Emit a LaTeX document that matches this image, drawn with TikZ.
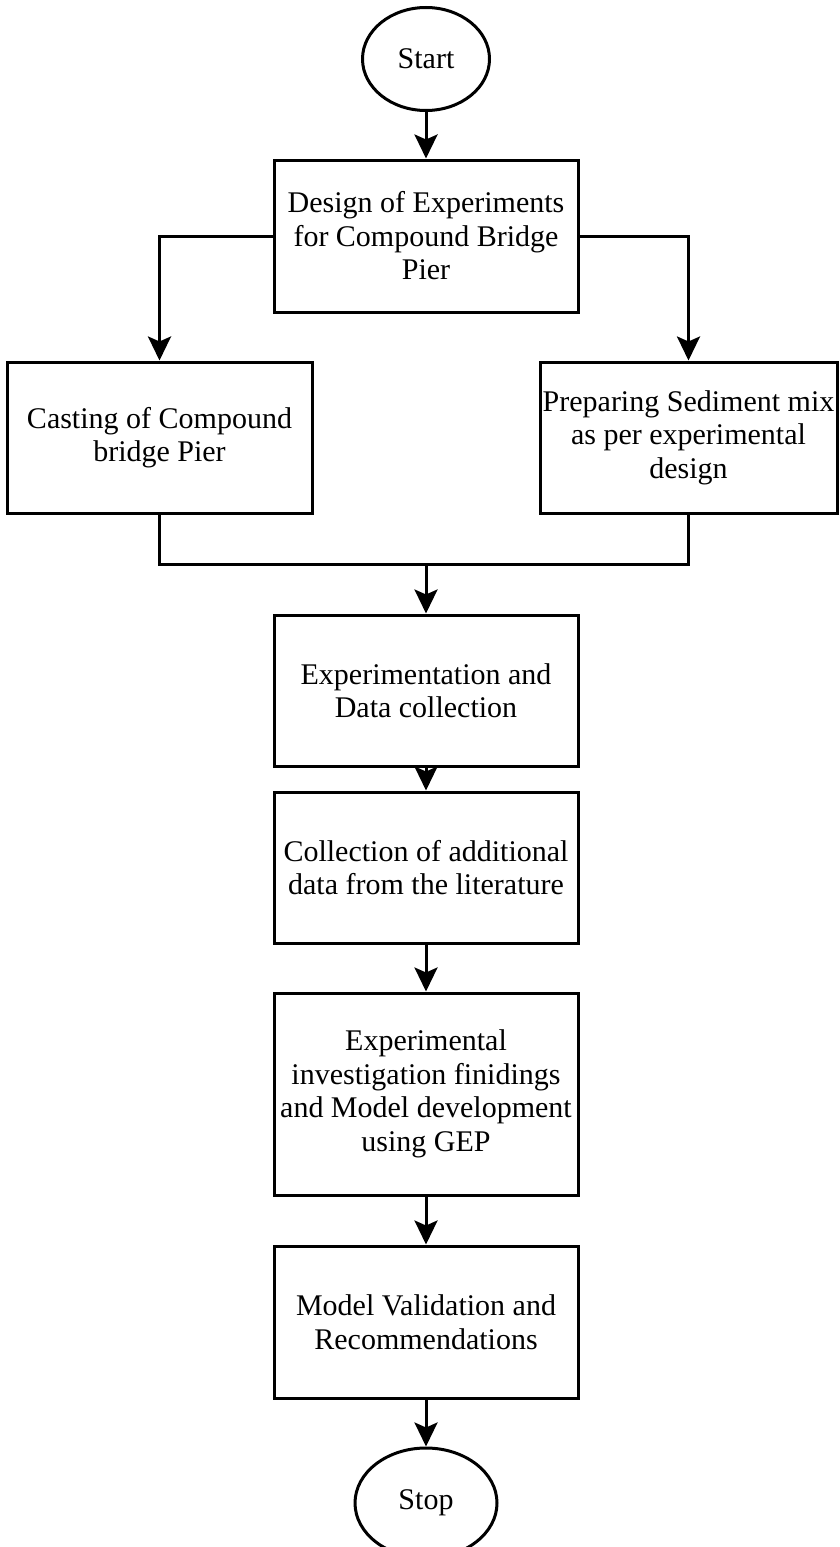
\documentclass[tikz,border=0pt]{standalone}
\usepackage{fontspec}
\setmainfont{Liberation Serif}
\usetikzlibrary{arrows.meta,shapes.geometric}
\begin{document}
\begin{tikzpicture}[x=1pt,y=-1pt,
  every node/.style={font=\fontsize{30}{33.5}\selectfont, align=center, inner sep=0pt},
  procbox/.style={draw, line width=3pt, rectangle, minimum width=304pt},
  term/.style={draw, line width=3pt, ellipse, minimum width=127pt, minimum height=103pt},
  conn/.style={line width=3pt},
  arr/.style={conn, -{Stealth[width=23pt,length=24pt,inset=5pt]}}]
\useasboundingbox (0,0) rectangle (840,1547);
\fill[white] (0,0) rectangle (840,1547);
\node[term] (start) at (426,59) {Start};
\node[procbox, minimum height=152pt] (b1) at (426,236) {Design of Experiments\\for Compound Bridge\\Pier};
\node[procbox, minimum width=305pt, minimum height=151pt] (b2) at (159.5,437.5) {Casting of Compound\\bridge Pier};
\node[procbox, minimum width=297pt, minimum height=151pt] (b3) at (688.5,437.5) {Preparing Sediment mix\\as per experimental\\design};
\coordinate (join) at (426,564);
\node[procbox, minimum height=151pt] (b4) at (426,690.5) {Experimentation and\\Data collection};
\node[procbox, minimum height=151pt] (b5) at (426,867.5) {Collection of additional\\data from the literature};
\node[procbox, minimum height=202pt] (b6) at (426,1094) {Experimental\\investigation finidings\\and Model development\\using GEP};
\node[procbox, minimum height=152pt] (b7) at (426,1322) {Model Validation and\\Recommendations};
\node[term, minimum width=142pt, minimum height=110pt] (stop) at (426,1503) {Stop};
\draw[arr] (start) -- (b1);
\draw[arr] (b1.west) -| (b2.north);
\draw[arr] (b1.east) -| (b3.north);
\draw[conn] (b2.south) |- (join) -| (b3.south);
\draw[arr] (join) -- (b4.north);
\draw[arr] (b4) -- (b5);
\draw[arr] (b5) -- (b6);
\draw[arr] (b6) -- (b7);
\draw[arr] (b7) -- (stop);
\end{tikzpicture}
\end{document}
